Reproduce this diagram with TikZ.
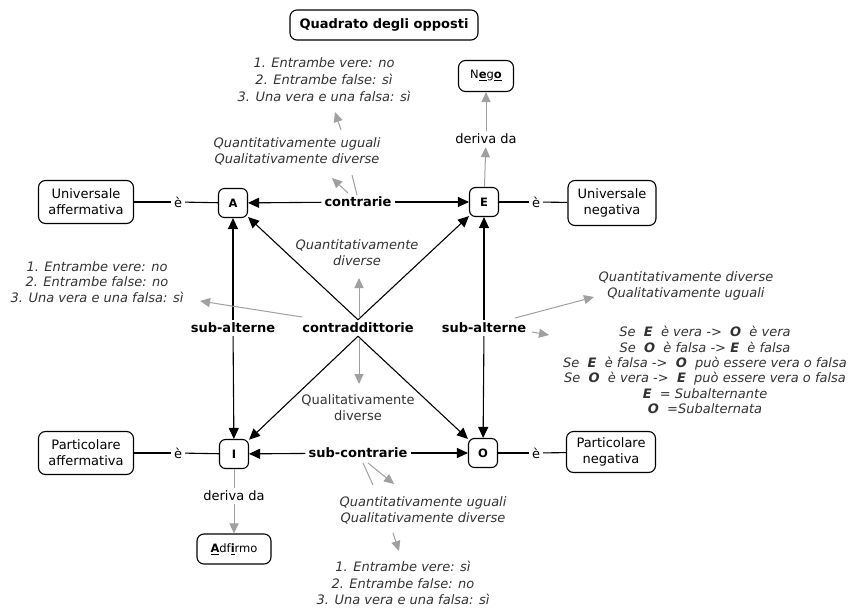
\documentclass[tikz,border=0pt]{standalone}
\usepackage{fontspec}
\setmainfont{DejaVu Sans}
\usetikzlibrary{arrows.meta}
\definecolor{lgray}{HTML}{A0A0A0}
\definecolor{tgray}{HTML}{333333}
\newcommand\myfs{\fontsize{13}{16}\selectfont}
\newcommand\smfs{\fontsize{11.5}{14}\selectfont}
\newcommand\ub[1]{\underline{\textbf{#1}}}
\begin{document}
\begin{tikzpicture}[x=1pt,y=-1pt,
  every node/.style={font=\myfs},
  box/.style={draw=black, line width=1.1pt, rounded corners=7pt, fill=white, align=center, inner sep=2pt},
  letter/.style={box, minimum width=29pt, minimum height=29pt, font=\smfs\bfseries, rounded corners=6pt},
  lbl/.style={inner sep=3pt, font=\myfs\bfseries},
  link/.style={inner sep=3pt, font=\myfs},
  ital/.style={align=center, font=\myfs\itshape, text=tgray, inner sep=1pt},
  blk/.style={draw=black, line width=1.1pt, -{Triangle[length=11pt,width=10pt]}},
  bln/.style={draw=black, line width=1.1pt},
  gln/.style={draw=lgray, line width=1pt},
  garr/.style={gln, -{Triangle[length=10pt,width=9pt]}}
]
\useasboundingbox[fill=white] (0,0) rectangle (853,607);

% title
\node[box, font=\myfs\bfseries, minimum width=188pt, minimum height=30pt] (title) at (384,25) {Quadrato degli opposti};

% letters
\node[letter] (A) at (233,203) {A};
\node[letter] (E) at (484,202) {E};
\node[letter] (I) at (234,454) {I};
\node[letter] (O) at (483,453) {O};

% side boxes
\node[box, minimum width=95pt, minimum height=43pt] (UA) at (86,202) {Universale\\affermativa};
\node[box, minimum width=88pt, minimum height=45pt] (UN) at (612,203) {Universale\\negativa};
\node[box, minimum width=95pt, minimum height=43pt] (PA) at (86,453) {Particolare\\affermativa};
\node[box, minimum width=89pt, minimum height=41pt] (PN) at (611,452) {Particolare\\negativa};

\node[box, font=\smfs, minimum width=55pt, minimum height=31pt] (Nego) at (486,76) {N\ub{e}g\ub{o}};
\node[box, font=\smfs, minimum width=74pt, minimum height=30pt] (Adf) at (234,549) {\ub{A}df\ub{i}rmo};

% link labels
\node[link] (eA) at (178,202) {è};
\node[link] (eE) at (536,202) {è};
\node[link] (eI) at (178,453) {è};
\node[link] (eO) at (536,453) {è};
\node[link] (dE) at (486,139) {deriva da};
\node[link] (dI) at (234,496) {deriva da};

\node[lbl] (contr) at (358,202) {contrarie};
\node[lbl] (subc) at (358,453) {sub-contrarie};
\node[lbl] (contra) at (358,328) {contraddittorie};
\node[lbl] (saL) at (233,328) {sub-alterne};
\node[lbl] (saR) at (484,328) {sub-alterne};

% italic texts
\node[ital, font=\fontsize{13}{17}\selectfont\itshape] (TT) at (324,80) {1. Entrambe vere: no\\2. Entrambe false: sì\\3. Una vera e una falsa: sì};
\node[ital] (T1) at (297,151) {Quantitativamente uguali\\Qualitativamente diverse};
\node[ital] (CQ) at (357,253) {Quantitativamente\\diverse};
\node[ital, font=\myfs\upshape] (CQl) at (358,408) {Qualitativamente\\diverse};
\node[ital, font=\fontsize{13}{15.5}\selectfont\itshape] (LL) at (97,282) {1. Entrambe vere: no\\2. Entrambe false: no\\3. Una vera e una falsa: sì};
\node[ital] (RQ) at (686,286) {Quantitativamente diverse\\Qualitativamente uguali};
\node[ital, font=\fontsize{13}{15.3}\selectfont\itshape] (SE) at (705,370) {Se\ \ \textbf{E}\ \ è vera ->\ \ \textbf{O}\ \ è vera\\Se\ \ \textbf{O}\ \ è falsa -> \textbf{E}\ \ è falsa\\Se\ \ \textbf{E}\ \ è falsa ->\ \ \textbf{O}\ \ può essere vera o falsa\\Se\ \ \textbf{O}\ \ è vera ->\ \ \textbf{E}\ \ può essere vera o falsa\\\textbf{E}\ \ = Subalternante\\\textbf{O}\ \ =Subalternata};
\node[ital] (BQ) at (423,510) {Quantitativamente uguali\\Qualitativamente diverse};
\node[ital, font=\fontsize{13}{16.5}\selectfont\itshape] (BL) at (403,583) {1. Entrambe vere: sì\\2. Entrambe false: no\\3. Una vera e una falsa: sì};

% plain black links
\draw[bln] (UA) -- (eA); \draw[bln] (eA) -- (A);
\draw[bln] (E) -- (eE); \draw[bln] (eE) -- (UN);
\draw[bln] (PA) -- (eI); \draw[bln] (eI) -- (I);
\draw[bln] (O) -- (eO); \draw[bln] (eO) -- (PN);

% black arrows
\draw[blk] (contr) -- (A); \draw[blk] (contr) -- (E);
\draw[blk] (subc) -- (I); \draw[blk] (subc) -- (O);
\draw[blk] (saL) -- (A); \draw[blk] (saL) -- (I);
\draw[blk] (saR) -- (E); \draw[blk] (saR) -- (O);
\draw[blk] (contra.north) -- (A); \draw[blk] (contra.north) -- (E);
\draw[blk] (contra.south) -- (I); \draw[blk] (contra.south) -- (O);

% gray links
\draw[garr] (E) -- (dE); \draw[garr] (dE) -- (Nego);
\draw[gln] (I) -- (dI); \draw[garr] (dI) -- (Adf);

\coordinate (g1a) at (348,193); \coordinate (g1b) at (332,178);
\coordinate (g2a) at (352,175); \coordinate (g2b) at (357,195);
\coordinate (g3a) at (341,130); \coordinate (g3b) at (335,112);
\coordinate (g4a) at (302,317); \coordinate (g4b) at (200,301);
\coordinate (g5a) at (359,318); \coordinate (g5b) at (359,278);
\coordinate (g6a) at (359,338); \coordinate (g6b) at (359,384);
\coordinate (g7a) at (515,318); \coordinate (g7b) at (594,297);
\coordinate (g8a) at (532,332); \coordinate (g8b) at (549,335);
\coordinate (g9a) at (368,463); \coordinate (g9b) at (394,484);
\coordinate (g10a) at (363,463); \coordinate (g10b) at (373,485);
\coordinate (g11a) at (393,533); \coordinate (g11b) at (399,551);

\draw[garr] (g1a) -- (g1b);
\draw[gln] (g2a) -- (g2b);
\draw[garr] (g3a) -- (g3b);
\draw[garr] (g4a) -- (g4b);
\draw[garr] (g5a) -- (g5b);
\draw[garr] (g6a) -- (g6b);
\draw[garr] (g7a) -- (g7b);
\draw[garr] (g8a) -- (g8b);
\draw[garr] (g9a) -- (g9b);
\draw[gln] (g10a) -- (g10b);
\draw[garr] (g11a) -- (g11b);
\end{tikzpicture}
\end{document}
